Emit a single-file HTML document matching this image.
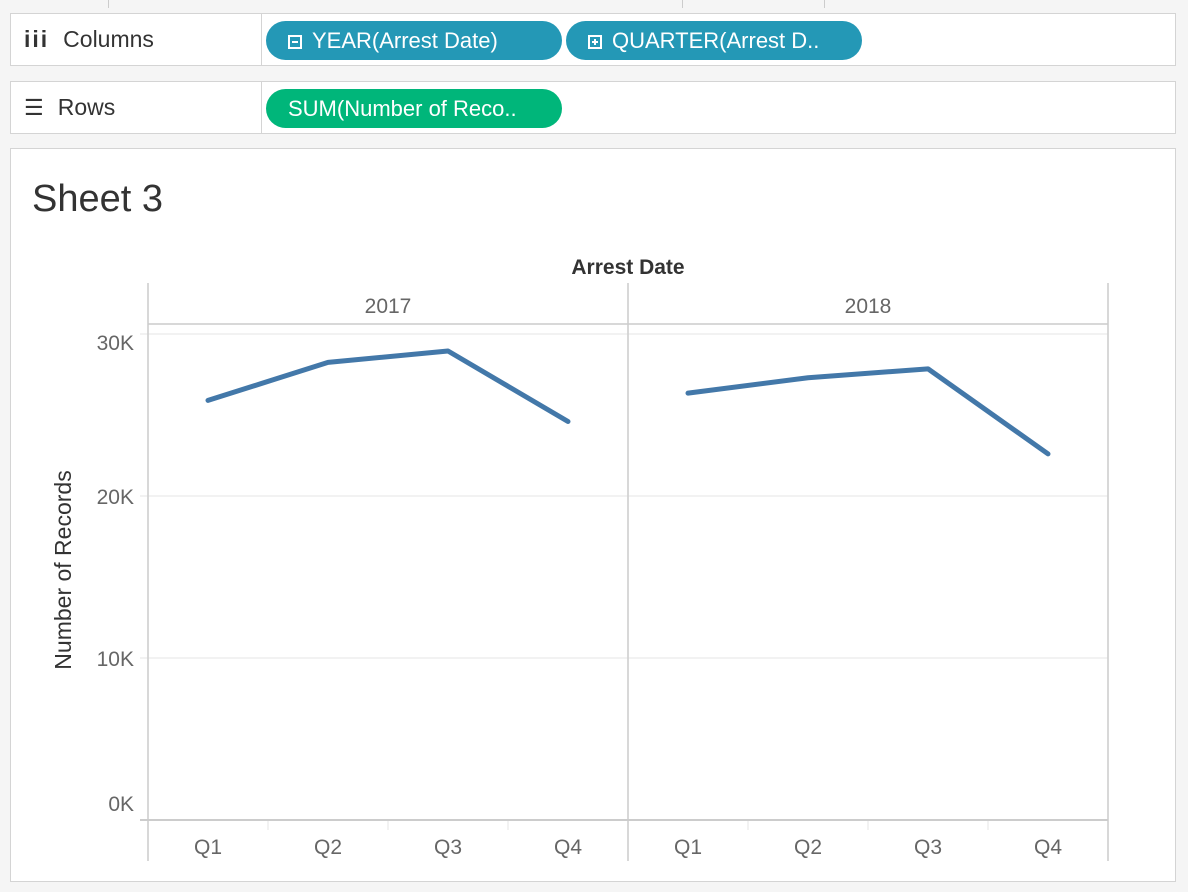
<!DOCTYPE html>
<html><head><meta charset="utf-8">
<style>
body{margin:0;width:1188px;height:892px;background:#f5f5f5;font-family:"Liberation Sans",sans-serif;overflow:hidden;position:relative}
.shelf{position:absolute;left:10px;width:1166px;height:53px;background:#fff;border:1px solid #d4d4d4;box-sizing:border-box}
.shelf .lab{position:absolute;left:0;top:0;width:250px;height:100%;border-right:1px solid #d4d4d4;font-size:23px;color:#333;line-height:51px}
.pill{position:absolute;top:7px;height:39px;border-radius:20px;color:#fff;font-size:22px;line-height:39px;padding:0 0 0 22px;box-sizing:border-box}
.blue{background:#2498b6}.green{background:#00b67a}
.box{display:inline-block;width:14px;height:14px;border:2px solid #fff;box-sizing:border-box;position:relative;vertical-align:-1px;margin-right:10px}
</style></head><body>
<div style="position:absolute;left:108px;top:0;width:1px;height:8px;background:#ccc"></div>
<div style="position:absolute;left:682px;top:0;width:1px;height:8px;background:#ccc"></div>
<div style="position:absolute;left:824px;top:0;width:1px;height:8px;background:#ccc"></div>
<div class="shelf" style="top:13px">
  <div class="lab"><span style="font-weight:bold;margin:0 14px 0 13px;letter-spacing:2px">iii</span>Columns</div>
  <div class="pill blue" style="left:255px;width:296px"><span class="box"><span style="position:absolute;left:2px;top:4px;width:6px;height:2px;background:#fff"></span></span>YEAR(Arrest Date)</div>
  <div class="pill blue" style="left:555px;width:296px"><span class="box"><span style="position:absolute;left:2px;top:4px;width:6px;height:2px;background:#fff"></span><span style="position:absolute;left:4px;top:2px;width:2px;height:6px;background:#fff"></span></span>QUARTER(Arrest D..</div>
</div>
<div class="shelf" style="top:81px">
  <div class="lab"><span style="font-size:22px;margin:0 14px 0 13px">☰</span>Rows</div>
  <div class="pill green" style="left:255px;width:296px">SUM(Number of Reco..</div>
</div>
<div style="position:absolute;left:10px;top:148px;width:1166px;height:734px;background:#fff;border:1px solid #d4d4d4;box-sizing:border-box"></div>
<div style="position:absolute;left:32px;top:178px;font-size:38px;color:#333;font-weight:200">Sheet 3</div>
<svg id="chart" width="1188" height="892" style="position:absolute;left:0;top:0"></svg>
<script>
const years=["2017","2018"];
const quarters=["Q1","Q2","Q3","Q4"];
const values2017=[25900,28250,28950,24600];
const values2018=[26350,27300,27850,22600];
const yTicks=[0,10000,20000,30000];
const yTickLabels=["0K","10K","20K","30K"];
const series=[values2017,values2018];
const NS="http://www.w3.org/2000/svg";
const svg=document.getElementById("chart");
const paneL=148,paneW=480,y0=820,pxPer=162/10000;
const yS=v=>y0-v*pxPer;
const xS=(p,q)=>paneL+p*paneW+60+q*120;
function mk(t,a,txt){const e=document.createElementNS(NS,t);for(const k in a)e.setAttribute(k,a[k]);if(txt!==undefined)e.textContent=txt;svg.appendChild(e);return e;}
yTicks.forEach((t,i)=>{
  if(t>0){const g=mk("line",{x1:140,x2:1108,y1:yS(t),y2:yS(t),stroke:"#eee","stroke-width":1.5});
  
  }
  let off=8;
  if(i===0)off=-9;
  if(i===yTicks.length-1)off=16;
  const l=mk("text",{x:134,y:yS(t)+off,"text-anchor":"end","font-size":21,fill:"#666"},yTickLabels[i]);
  
  
});
const a1=mk("line",{x1:148,x2:148,y1:283,y2:861,stroke:"#ccc","stroke-width":1.5});


const a2=mk("line",{x1:628,x2:628,y1:283,y2:861,stroke:"#ccc","stroke-width":1.5});


const a3=mk("line",{x1:1108,x2:1108,y1:283,y2:861,stroke:"#ccc","stroke-width":1.5});


const a4=mk("line",{x1:148,x2:1108,y1:324,y2:324,stroke:"#ccc","stroke-width":1.5});


const a5=mk("line",{x1:140,x2:1108,y1:820,y2:820,stroke:"#ccc","stroke-width":2});


const t1=mk("text",{x:628,y:274,"text-anchor":"middle","font-size":21,"font-weight":"bold",fill:"#333"},"Arrest Date");


const t2=mk("text",{x:0,y:0,"text-anchor":"middle","font-size":23,fill:"#333",transform:"translate(71,570) rotate(-90)"},"Number of Records");


years.forEach((yr,p)=>{
  const h=mk("text",{x:paneL+p*paneW+paneW/2,y:313,"text-anchor":"middle","font-size":21,fill:"#666"},yr);
  
  
  quarters.forEach((q,i)=>{
    const l=mk("text",{x:xS(p,i),y:854,"text-anchor":"middle","font-size":21,fill:"#666"},q);
    
    
    if(i>0){const tk=mk("line",{x1:xS(p,i)-60,x2:xS(p,i)-60,y1:821,y2:830,stroke:"#eee","stroke-width":1.5});
    
    }
  });
  const pts=series[p].map((v,i)=>xS(p,i)+","+yS(v)).join(" ");
  const pl=mk("polyline",{points:pts,fill:"none",stroke:"#4378a9","stroke-width":5,"stroke-linecap":"round","stroke-linejoin":"round"});
  
  
});
</script>
</body></html>
